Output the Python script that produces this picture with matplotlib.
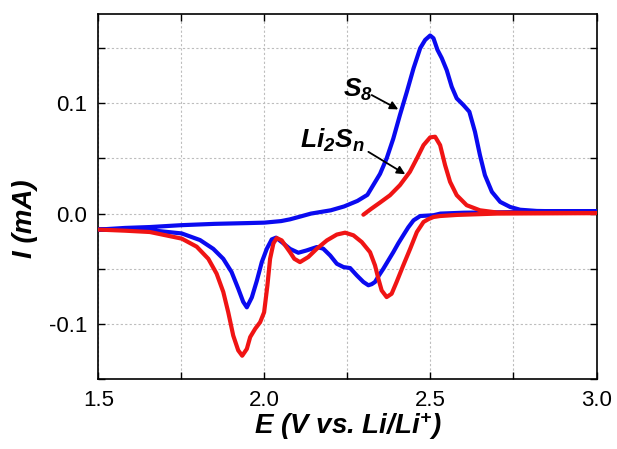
import matplotlib
matplotlib.use("Agg")
import matplotlib.pyplot as plt

plt.rcParams['font.family'] = ['Liberation Sans', 'DejaVu Sans']
plt.rcParams['axes.unicode_minus'] = False
plt.rcParams['mathtext.fontset'] = 'custom'
plt.rcParams['mathtext.rm'] = 'Liberation Sans:italic:bold'
plt.rcParams['mathtext.it'] = 'Liberation Sans:italic:bold'
plt.rcParams['mathtext.bf'] = 'Liberation Sans:italic:bold'

# S8 (blue) - anodic sweep (1.5 -> 3.0)
blue_anodic_x = [1.50, 1.58, 1.655, 1.75, 1.85, 1.95, 2.00, 2.05, 2.077, 2.11, 2.14, 2.17,
                 2.20, 2.24, 2.28, 2.31, 2.33, 2.348, 2.368, 2.388, 2.408, 2.429, 2.449,
                 2.469, 2.484, 2.499, 2.509, 2.521, 2.534, 2.549, 2.564, 2.579, 2.599,
                 2.617, 2.634, 2.649, 2.664, 2.685, 2.710, 2.74, 2.77, 2.82, 2.90, 3.00]
blue_anodic_y = [-0.0145, -0.0130, -0.0122, -0.0105, -0.0093, -0.0086, -0.0082, -0.0068,
                 -0.0052, -0.0025, 0.0000, 0.0015, 0.0030, 0.0065, 0.0115, 0.0170, 0.0270,
                 0.0360, 0.0500, 0.0680, 0.0894, 0.1106, 0.1318, 0.1500, 0.1575, 0.1615,
                 0.1590, 0.1485, 0.1410, 0.1300, 0.1150, 0.1045, 0.0985, 0.0924, 0.0742,
                 0.0530, 0.0348, 0.0197, 0.0106, 0.0060, 0.0035, 0.0024, 0.0020, 0.0020]
# S8 (blue) - cathodic sweep (3.0 -> 1.5)
blue_cathodic_x = [3.00, 2.80, 2.60, 2.53, 2.509, 2.469, 2.449, 2.433, 2.418, 2.403, 2.388,
                   2.373, 2.358, 2.345, 2.333, 2.323, 2.313, 2.298, 2.278, 2.258, 2.238,
                   2.218, 2.198, 2.177, 2.158, 2.127, 2.102, 2.077, 2.052, 2.035, 2.022,
                   2.007, 1.992, 1.977, 1.962, 1.947, 1.936, 1.921, 1.901, 1.876, 1.846,
                   1.806, 1.751, 1.655, 1.58, 1.50]
blue_cathodic_y = [0.0020, 0.0015, 0.0008, 0.0000, -0.0015, -0.0022, -0.0061, -0.0125,
                   -0.0197, -0.0270, -0.0350, -0.0425, -0.0500, -0.0560, -0.0620, -0.0640,
                   -0.0650, -0.0620, -0.0560, -0.0494, -0.0485, -0.0455, -0.0380, -0.0318,
                   -0.0303, -0.0334, -0.0355, -0.0320, -0.0258, -0.0218, -0.0234, -0.0320,
                   -0.0440, -0.0610, -0.0760, -0.0850, -0.0800, -0.0680, -0.0530, -0.0410,
                   -0.0320, -0.0240, -0.0180, -0.0150, -0.0146, -0.0145]

# Li2Sn (red) - anodic sweep (OCV -> 3.0)
red_anodic_x = [2.298, 2.32, 2.348, 2.378, 2.408, 2.438, 2.459, 2.479, 2.499, 2.514, 2.529,
                2.544, 2.559, 2.579, 2.609, 2.649, 2.70, 2.80, 3.00]
red_anodic_y = [-0.0010, 0.0040, 0.0100, 0.0166, 0.0258, 0.0379, 0.0500, 0.0621, 0.0691,
                0.0697, 0.0621, 0.0439, 0.0288, 0.0167, 0.0076, 0.0030, 0.0010, 0.0006, 0.0005]
# Li2Sn (red) - cathodic sweep (3.0 -> 1.5)
red_cathodic_x = [3.00, 2.70, 2.58, 2.529, 2.509, 2.494, 2.479, 2.459, 2.439, 2.418, 2.398,
                  2.383, 2.368, 2.353, 2.343, 2.333, 2.318, 2.293, 2.268, 2.243, 2.218,
                  2.188, 2.158, 2.132, 2.107, 2.090, 2.077, 2.052, 2.037, 2.027, 2.017,
                  2.009, 1.999, 1.987, 1.972, 1.957, 1.947, 1.933, 1.921, 1.906, 1.891,
                  1.876, 1.856, 1.831, 1.796, 1.751, 1.655, 1.58, 1.50]
red_cathodic_y = [0.0005, 0.0000, -0.0012, -0.0022, -0.0031, -0.0050, -0.0076, -0.0167,
                  -0.0318, -0.0470, -0.0620, -0.0727, -0.0757, -0.0697, -0.0590, -0.0470,
                  -0.0350, -0.0258, -0.0197, -0.0173, -0.0190, -0.0243, -0.0318, -0.0394,
                  -0.0440, -0.0410, -0.0350, -0.0243, -0.0222, -0.0270, -0.0410, -0.0650,
                  -0.0895, -0.0985, -0.1045, -0.1120, -0.1227, -0.1289, -0.1240, -0.1106,
                  -0.0895, -0.0710, -0.0545, -0.0410, -0.0300, -0.0227, -0.0167, -0.0155,
                  -0.0145]

x_ticks = [1.5, 2.0, 2.5, 3.0]
y_ticks = [-0.1, 0.0, 0.1]

fig = plt.figure(figsize=(6.17, 4.49), dpi=100)
ax = fig.add_axes([0.1595, 0.1559, 0.8073, 0.8129])

blue = '#0a0af0'
red = '#f01414'
ax.plot(blue_anodic_x + blue_cathodic_x, blue_anodic_y + blue_cathodic_y,
        color=blue, lw=3.0, solid_joinstyle='round', solid_capstyle='round', zorder=3)
ax.plot(red_anodic_x + red_cathodic_x, red_anodic_y + red_cathodic_y,
        color=red, lw=3.0, solid_joinstyle='round', solid_capstyle='round', zorder=4)

ax.set_xlim(1.5, 3.0)
ax.set_ylim(-0.15, 0.181)
ax.set_xticks(x_ticks)
ax.set_yticks(y_ticks)
ax.set_xticks([1.75, 2.25, 2.75], minor=True)
ax.set_yticks([-0.15, -0.05, 0.05, 0.15], minor=True)
ax.grid(True, which='both', color='#bdbdbd', linestyle=(0, (2, 2)), linewidth=0.8, zorder=0)
ax.set_axisbelow(True)
ax.tick_params(which='both', direction='in', top=True, right=True, length=5, width=1.0,
               labelsize=16, pad=8)
for s in ax.spines.values():
    s.set_linewidth(1.2)

ax.set_xlabel(r'E (V vs. Li/Li$^{+}$)', fontsize=20, fontweight='bold', fontstyle='italic')
ax.set_ylabel('I (mA)', fontsize=20, fontweight='bold', fontstyle='italic')
ax.xaxis.set_label_coords(0.5, -0.085)
ax.yaxis.set_label_coords(-0.122, 0.44)

ax.text(2.237, 0.1057, r'$\mathrm{S_8}$', fontsize=19, ha='left', va='baseline', zorder=5)
ax.text(2.107, 0.0594, r'$\mathrm{Li_2S_n}$', fontsize=19, ha='left', va='baseline', zorder=5)
ax.annotate('', xy=(2.403, 0.0945), xytext=(2.323, 0.1075),
            arrowprops=dict(arrowstyle='-|>', color='black', lw=1.3, mutation_scale=12,
                            shrinkA=0, shrinkB=0), zorder=5)
ax.annotate('', xy=(2.424, 0.0357), xytext=(2.313, 0.0560),
            arrowprops=dict(arrowstyle='-|>', color='black', lw=1.3, mutation_scale=12,
                            shrinkA=0, shrinkB=0), zorder=5)

fig.savefig('out.png', dpi=100)
